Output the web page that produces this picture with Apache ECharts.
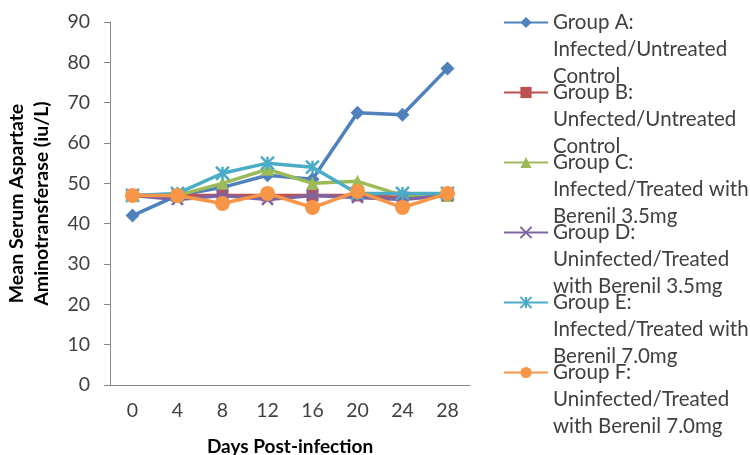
<!DOCTYPE html>
<html>
<head>
<meta charset="utf-8">
<script src="https://cdn.jsdelivr.net/npm/echarts@6/dist/echarts.min.js"></script>
<style>
  html, body { margin: 0; padding: 0; background: #fff; }
  #chart { width: 750px; height: 455px; }
</style>
</head>
<body>
<div id="chart"></div>
<script>
// Days post-infection (x-axis categories)
const days = ['0', '4', '8', '12', '16', '20', '24', '28'];

// Mean serum AST (iu/L) per group
const groupA = [42, 47, 49, 52, 51, 67.5, 67, 78.5];
const groupB = [47, 47, 47, 47, 47, 47, 46.5, 47];
const groupC = [47, 47, 50, 53.5, 50, 50.5, 47, 47];
const groupD = [47, 46, 47, 46, 47, 46.5, 46, 47];
const groupE = [47, 47.5, 52.5, 55, 54, 47.5, 47.5, 47.5];
const groupF = [47, 47, 45, 47.5, 44, 48, 44, 47.5];

const groupNames = [
  'Group A:\nInfected/Untreated\nControl',
  'Group B:\nUnfected/Untreated\nControl',
  'Group C:\nInfected/Treated with\nBerenil 3.5mg',
  'Group D:\nUninfected/Treated\nwith Berenil 3.5mg',
  'Group E:\nInfected/Treated with\nBerenil 7.0mg',
  'Group F:\nUninfected/Treated\nwith Berenil 7.0mg'
];

// Y-axis ticks
const yMin = 0, yMax = 90, yStep = 10;

const colors = ['#4F81BD', '#C0504D', '#9BBB59', '#8064A2', '#4BACC6', '#F79646'];
const symbols = [
  'diamond',
  'rect',
  'triangle',
  'path://M0,0L10,10M10,0L0,10',
  'path://M0,0L10,10M10,0L0,10M5,0L5,10',
  'circle'
];
const symbolSizes = [14, 12, 13, 11, 13, 15];
const values = [groupA, groupB, groupC, groupD, groupE, groupF];

const font = 'Lato, "Open Sans", sans-serif';
const textColor = '#404040';

const series = values.map((v, i) => ({
  name: groupNames[i],
  type: 'line',
  data: v,
  symbol: symbols[i],
  symbolSize: symbolSizes[i],
  lineStyle: { width: 3.5, color: colors[i] },
  itemStyle: {
    color: colors[i],
    borderColor: colors[i],
    borderWidth: (i === 3 || i === 4) ? 2.5 : 0
  },
  z: 2 + i
}));

const chart = echarts.init(document.getElementById('chart'), null, { renderer: 'canvas' });
chart.setOption({
  animation: false,
  color: colors,
  textStyle: { fontFamily: font },
  grid: { left: 110, right: 280, top: 22, bottom: 70, outerBoundsMode: 'none', containLabel: false },
  xAxis: {
    type: 'category',
    data: days,
    boundaryGap: true,
    name: 'Days Post-infection',
    nameLocation: 'middle',
    nameGap: 52,
    nameTextStyle: { fontFamily: font, fontSize: 19, fontWeight: 'bold', color: '#000' },
    axisLine: { lineStyle: { color: '#868686', width: 1 } },
    axisTick: { show: false },
    axisLabel: { fontFamily: font, fontSize: 19.5, color: textColor, margin: 16 }
  },
  yAxis: {
    type: 'value',
    min: yMin,
    max: yMax,
    interval: yStep,
    name: 'Mean Serum Aspartate\nAminotransferase (iu/L)',
    nameLocation: 'middle',
    nameGap: 56,
    nameTextStyle: { fontFamily: font, fontSize: 19.5, fontWeight: 'bold', color: '#000', lineHeight: 25 },
    axisLine: { show: true, lineStyle: { color: '#868686', width: 1 } },
    axisTick: { show: true, length: 6, lineStyle: { color: '#868686' } },
    axisLabel: { fontFamily: font, fontSize: 19.5, color: textColor, margin: 20 },
    splitLine: { show: false }
  },
  legend: {
    orient: 'vertical',
    left: 503,
    top: -45,
    padding: 0,
    itemWidth: 44,
    itemHeight: 14,
    itemGap: -65,
    data: groupNames,
    // two leading blank lines put the first line of each label level with its icon
    formatter: name => '\n\n' + name,
    textStyle: {
      fontFamily: font,
      fontSize: 20.5,
      color: textColor,
      lineHeight: 27
    },
    selectedMode: false
  },
  series: series
});
</script>
</body>
</html>
